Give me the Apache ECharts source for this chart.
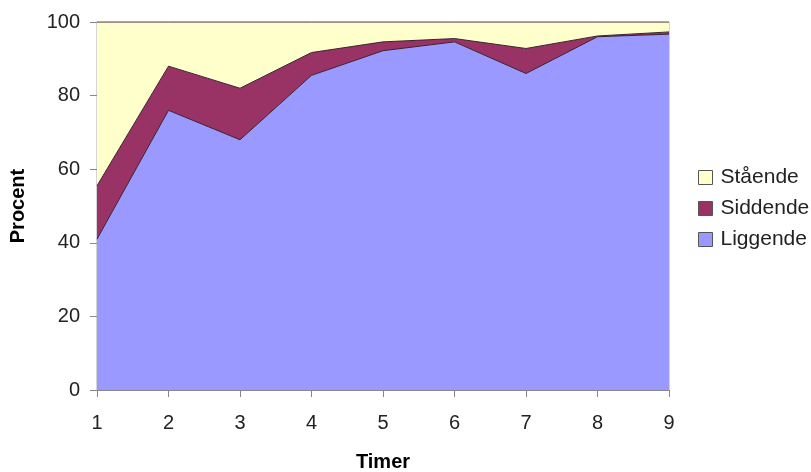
<!DOCTYPE html>
<html>
<head>
<meta charset="utf-8">
<script src="https://cdn.jsdelivr.net/npm/echarts@6/dist/echarts.min.js"></script>
<style>html,body{margin:0;padding:0;background:#fff}#c{width:811px;height:472px}</style>
</head>
<body>
<div id="c"></div>
<script>
var categories = ['1','2','3','4','5','6','7','8','9'];
var liggende = [41, 76, 68, 85.5, 92.2, 94.6, 86, 96, 96.7];
var siddende = [14.5, 12, 14, 6.2, 2.4, 0.9, 6.8, 0.2, 0.6];
var staaende = [44.5, 12, 18, 8.3, 5.4, 4.5, 7.2, 3.8, 2.7];
var legendOrder = ['Stående', 'Siddende', 'Liggende'];
var colors = {'Liggende': '#9999FF', 'Siddende': '#993366', 'Stående': '#FFFFCC'};

var chart = echarts.init(document.getElementById('c'));
function mk(name, data) {
  return {
    name: name, type: 'line', stack: 'total', data: data,
    symbol: 'none', smooth: false,
    lineStyle: {color: '#3a2030', width: 1},
    areaStyle: {color: colors[name], opacity: 1},
    itemStyle: {color: colors[name], borderColor: '#333', borderWidth: 1},
    emphasis: {disabled: true}
  };
}
var font = 'Liberation Sans, Arial';
chart.setOption({
  animation: false,
  backgroundColor: '#fff',
  grid: {left: 97, right: 142, top: 22, bottom: 82, containLabel: false, outerBoundsMode: 'none', show: true, borderColor: '#aaa', borderWidth: 1, backgroundColor: 'transparent'},
  legend: {
    orient: 'vertical', left: 693, top: 162, itemGap: 10,
    icon: 'rect', itemWidth: 14, itemHeight: 14,
    textStyle: {fontFamily: font, fontSize: 21, color: '#222', padding: [0, 0, 0, 3]},
    data: legendOrder.map(function(n){ return {name: n, itemStyle: {color: colors[n], borderColor: '#555', borderWidth: 1}}; })
  },
  xAxis: {
    type: 'category', data: categories, boundaryGap: false,
    name: 'Timer', nameLocation: 'middle', nameGap: 62,
    nameTextStyle: {fontFamily: font, fontWeight: 'bold', fontSize: 20, color: '#000'},
    axisLine: {lineStyle: {color: '#888'}},
    axisTick: {show: true, length: 7, lineStyle: {color: '#888'}},
    axisLabel: {fontFamily: font, fontSize: 20, color: '#222', margin: 23},
    splitLine: {show: false}
  },
  yAxis: {
    type: 'value', min: 0, max: 100, interval: 20,
    name: 'Procent', nameLocation: 'middle', nameGap: 69,
    nameTextStyle: {fontFamily: font, fontWeight: 'bold', fontSize: 20, color: '#000'},
    axisLine: {show: true, lineStyle: {color: '#888'}},
    axisTick: {show: true, length: 7, lineStyle: {color: '#888'}},
    axisLabel: {fontFamily: font, fontSize: 20, color: '#222', margin: 17},
    splitLine: {show: false}
  },
  series: [mk('Liggende', liggende), mk('Siddende', siddende), mk('Stående', staaende)]
});
</script>
</body>
</html>
